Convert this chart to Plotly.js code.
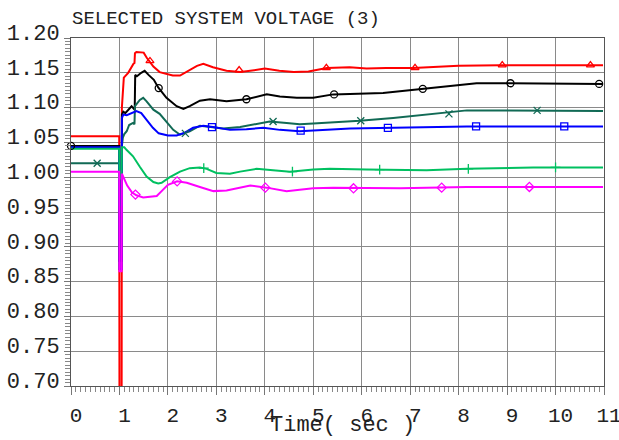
<!DOCTYPE html>
<html>
<head>
<meta charset="utf-8">
<script src="https://cdn.plot.ly/plotly-3.0.1.min.js"></script>
<style>html,body{margin:0;padding:0;background:#fff;}#chart{width:619px;height:440px;}</style>
</head>
<body>
<div id="chart"></div>
<script>
// ---- data ----
const titleText = "SELECTED SYSTEM VOLTAGE (3)";
const xTitle = "Time( sec )";
const xTickVals = [0,1,2,3,4,5,6,7,8,9,10,11];
const yTickVals = [0.70,0.75,0.80,0.85,0.90,0.95,1.00,1.05,1.10,1.15,1.20];

const redT = [0,0.995,1.0,1.045,1.05,1.07,1.09,1.18,1.25,1.29,1.31,1.32,1.35,1.5,1.56,1.63,1.7,1.83,1.97,2.1,2.25,2.45,2.6,2.73,2.93,3.21,3.49,3.7,4.0,4.3,4.6,4.9,5.28,5.75,6.1,6.5,7.06,8.0,8.85,9.9,10.98];
const redV = [1.059,1.059,0.69,0.69,1.10,1.13,1.143,1.150,1.159,1.163,1.164,1.178,1.180,1.179,1.172,1.166,1.159,1.151,1.148,1.146,1.146,1.154,1.160,1.163,1.158,1.153,1.151,1.153,1.156,1.153,1.151,1.152,1.157,1.158,1.156,1.157,1.157,1.160,1.161,1.161,1.161];

const blackT = [0,0.995,1.0,1.045,1.05,1.08,1.12,1.18,1.25,1.3,1.315,1.325,1.36,1.45,1.52,1.6,1.71,1.8,1.97,2.18,2.32,2.45,2.66,2.87,3.0,3.21,3.62,4.04,4.31,4.66,5.0,5.41,6.44,7.27,7.96,8.37,9.06,10.1,10.98];
const blackV = [1.045,1.045,0.88,0.88,1.090,1.094,1.092,1.097,1.102,1.098,1.098,1.147,1.145,1.150,1.153,1.147,1.140,1.129,1.114,1.102,1.098,1.102,1.110,1.112,1.111,1.109,1.112,1.119,1.116,1.114,1.114,1.119,1.121,1.127,1.132,1.135,1.135,1.134,1.134];

const dgreenT = [0,0.995,1.0,1.045,1.05,1.07,1.1,1.15,1.2,1.28,1.31,1.32,1.42,1.49,1.56,1.7,1.83,2.11,2.25,2.45,2.66,2.87,3.14,3.49,3.83,4.1,4.45,4.72,5.0,5.96,6.65,7.48,8.17,8.85,10.09,10.98];
const dgreenV = [1.020,1.020,0.96,0.96,1.045,1.057,1.062,1.066,1.075,1.078,1.076,1.102,1.111,1.114,1.109,1.097,1.091,1.068,1.061,1.066,1.074,1.072,1.070,1.072,1.077,1.080,1.078,1.076,1.077,1.081,1.085,1.091,1.096,1.096,1.095,1.095];

const blueT = [0,0.995,1.0,1.045,1.05,1.08,1.15,1.25,1.35,1.45,1.55,1.69,1.81,2.0,2.18,2.35,2.52,2.73,2.93,3.28,3.62,3.97,4.31,4.72,5.76,6.79,8.17,9.54,10.98];
const blueV = [1.043,1.043,0.868,0.868,1.085,1.090,1.089,1.092,1.095,1.092,1.083,1.071,1.063,1.060,1.060,1.064,1.071,1.074,1.072,1.068,1.069,1.071,1.068,1.066,1.070,1.071,1.073,1.073,1.073];

const greenT = [0,0.995,1.0,1.045,1.05,1.1,1.15,1.28,1.42,1.56,1.7,1.8,1.87,2.04,2.25,2.45,2.66,2.8,3.0,3.28,3.49,3.83,4.17,4.52,5.0,5.34,6.1,7.34,8.17,9.54,10.98];
const greenV = [1.041,1.041,0.998,0.998,1.043,1.043,1.039,1.030,1.015,1.001,0.993,0.991,0.992,1.000,1.008,1.013,1.014,1.012,1.006,1.005,1.008,1.012,1.010,1.008,1.011,1.012,1.011,1.010,1.012,1.014,1.014];

const magT = [0,0.995,1.0,1.045,1.05,1.08,1.16,1.26,1.35,1.49,1.66,1.77,1.87,2.0,2.19,2.39,2.66,2.94,3.21,3.49,3.7,4.04,4.45,4.72,5.0,5.41,6.79,8.17,10.98];
const magV = [1.008,1.008,0.865,0.865,1.005,1.000,0.988,0.978,0.974,0.971,0.972,0.973,0.980,0.989,0.994,0.992,0.986,0.980,0.981,0.985,0.988,0.985,0.980,0.982,0.984,0.985,0.984,0.986,0.986];

// marker points (sparse symbols on each curve)
const redMkT = [1.63,3.47,5.27,7.1,8.9,10.72];
const redMkV = [1.167,1.154,1.157,1.157,1.161,1.161];
const blackMkT = [0,1.81,3.62,5.43,7.26,9.07,10.9];
const blackMkV = [1.045,1.128,1.112,1.119,1.127,1.135,1.134];
const dgreenMkT = [0.54,2.36,4.17,5.98,7.8,9.62];
const dgreenMkV = [1.020,1.063,1.080,1.081,1.091,1.096];
const blueMkT = [2.91,4.74,6.54,8.36,10.18];
const blueMkV = [1.072,1.067,1.071,1.073,1.073];
const greenMkT = [2.74,4.57,6.37,8.2,10.0];
const greenMkV = [1.013,1.008,1.011,1.012,1.014];
const magMkT = [1.33,2.19,4.01,5.83,7.65,9.46];
const magMkV = [0.975,0.994,0.985,0.984,0.985,0.986];

// ---- styling ----
const FONT = '"Liberation Mono", "Courier New", monospace';
const series = [
  {t:redT, v:redV, mt:redMkT, mv:redMkV, color:'#ff0000', sym:'triangle-up-open'},
  {t:blackT, v:blackV, mt:blackMkT, mv:blackMkV, color:'#000000', sym:'circle-open'},
  {t:dgreenT, v:dgreenV, mt:dgreenMkT, mv:dgreenMkV, color:'#116a55', sym:'x-thin-open'},
  {t:blueT, v:blueV, mt:blueMkT, mv:blueMkV, color:'#0000ff', sym:'square-open'},
  {t:greenT, v:greenV, mt:greenMkT, mv:greenMkV, color:'#00c060', sym:'cross-thin-open'},
  {t:magT, v:magV, mt:magMkT, mv:magMkV, color:'#ff00ff', sym:'diamond-open'}
];

const traces = [];
series.forEach(s => {
  traces.push({x:s.t, y:s.v, type:'scatter', mode:'lines', line:{color:s.color, width:2}, hoverinfo:'skip'});
});
series.forEach(s => {
  traces.push({x:s.mt, y:s.mv, type:'scatter', mode:'markers', cliponaxis:false,
    marker:{symbol:s.sym, size:7, color:s.color, line:{color:s.color, width:1.3}}, hoverinfo:'skip'});
});

const layout = {
  width:619, height:440,
  paper_bgcolor:'#ffffff', plot_bgcolor:'#ffffff',
  showlegend:false,
  margin:{l:71, r:15, t:38, b:54},
  font:{family:FONT, color:'#222'},
  title:{text:titleText, font:{family:FONT, size:19, color:'#222'},
    xref:'container', yref:'container', x:72/619, xanchor:'left', y:1-17/440, yanchor:'middle'},
  xaxis:{range:[0,11], tickvals:xTickVals, ticktext:xTickVals.map(String),
    showgrid:true, gridcolor:'#8a8a8a', gridwidth:1,
    showline:true, mirror:true, linecolor:'#555', linewidth:1,
    ticks:'outside', ticklen:8, tickcolor:'#777', tickwidth:1,
    ticklabelstandoff:2, ticklabelshift:5, ticklabeloverflow:'allow',
    tickfont:{family:FONT, size:21, color:'#222'},
    minor:{dtick:0.1, ticks:'outside', ticklen:5, tickcolor:'#888', tickwidth:1, showgrid:false},
    zeroline:false, fixedrange:true},
  yaxis:{range:[0.70,1.20], tickvals:yTickVals, tickformat:'.2f',
    showgrid:true, gridcolor:'#8a8a8a', gridwidth:1,
    showline:true, mirror:true, linecolor:'#555', linewidth:1,
    ticks:'outside', ticklen:6, tickcolor:'#777', tickwidth:1,
    ticklabelstandoff:0, ticklabelshift:-6, ticklabeloverflow:'allow',
    tickfont:{family:FONT, size:22, color:'#222'},
    minor:{dtick:0.005, ticks:'outside', ticklen:5, tickcolor:'#888', tickwidth:1, showgrid:false},
    zeroline:false, fixedrange:true},
  annotations:[{text:xTitle, xref:'paper', yref:'paper', x:0.51, y:-0.072, xanchor:'center', yanchor:'top',
    showarrow:false, font:{family:FONT, size:22, color:'#222'}}]
};

Plotly.newPlot('chart', traces, layout, {staticPlot:true, displayModeBar:false});
</script>
</body>
</html>
